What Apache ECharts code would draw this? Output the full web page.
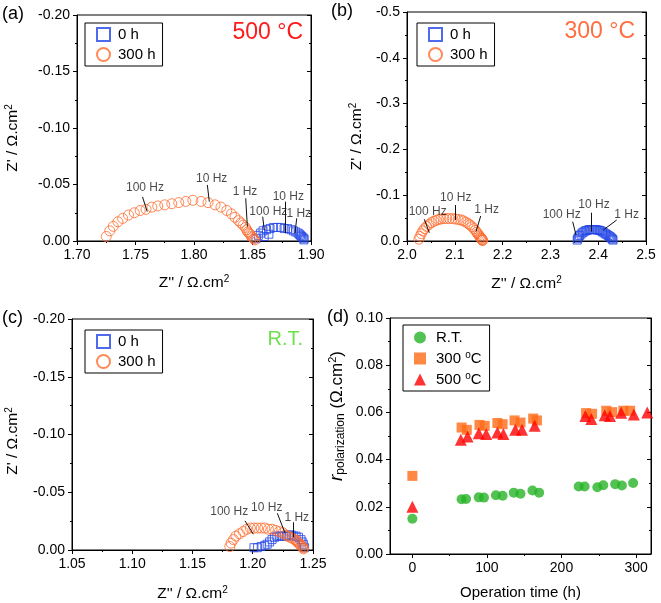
<!DOCTYPE html>
<html><head><meta charset="utf-8">
<script src="https://cdn.jsdelivr.net/npm/echarts@6/dist/echarts.min.js"></script>
<style>html,body{margin:0;padding:0;background:#fff}#c{width:661px;height:603px}</style>
</head><body><div id="c"></div>
<script>
// ---------- Panel (a) 500 °C ----------
const A_0H_X = [1.853,1.855,1.857,1.859,1.860,1.862,1.864,1.865,1.868,1.871,1.874,1.877,1.880,1.883,1.885,1.887,1.889,1.890,1.891,1.892,1.893,1.894,1.894];
const A_0H_Y = [-0.002,-0.005,-0.007,-0.009,-0.004,-0.010,-0.006,-0.011,-0.012,-0.012,-0.012,-0.011,-0.011,-0.010,-0.009,-0.008,-0.007,-0.006,-0.005,-0.004,-0.003,-0.002,-0.001];
const A_300H_X = [1.725,1.728,1.731,1.735,1.739,1.744,1.749,1.754,1.759,1.764,1.769,1.775,1.781,1.787,1.793,1.799,1.806,1.812,1.818,1.823,1.828,1.832,1.835,1.838,1.840,1.842,1.844,1.845,1.846,1.847,1.848,1.849,1.850,1.851,1.852];
const A_300H_Y = [-0.004,-0.009,-0.013,-0.017,-0.020,-0.023,-0.025,-0.027,-0.028,-0.030,-0.031,-0.032,-0.033,-0.034,-0.035,-0.036,-0.035,-0.034,-0.032,-0.030,-0.027,-0.024,-0.021,-0.018,-0.016,-0.014,-0.012,-0.010,-0.008,-0.007,-0.006,-0.004,-0.003,-0.002,-0.001];
const A_ANN_TEXT = ['100 Hz','10 Hz','1 Hz','100 Hz','10 Hz','1 Hz'];
const A_ANN_AT = [[1.7581,-0.0475],[1.8151,-0.0549],[1.8436,-0.0434],[1.8635,-0.0259],[1.8806,-0.0392],[1.8895,-0.0245]];
const A_ANN_LINE = [[[1.756,-0.039],[1.760,-0.026]],[[1.8114,-0.0496],[1.8131,-0.0348]],[[1.8442,-0.0378],[1.8456,-0.0127]],[[1.8587,-0.0215],[1.8601,-0.0097]],[[1.8778,-0.0348],[1.8778,-0.0068]],[[1.8878,-0.0201],[1.8863,-0.0068]]];

// ---------- Panel (b) 300 °C ----------
const B_0H_X = [2.356,2.357,2.359,2.361,2.364,2.367,2.370,2.373,2.376,2.379,2.382,2.385,2.388,2.391,2.394,2.397,2.400,2.403,2.406,2.409,2.412,2.415,2.418,2.421,2.424,2.426,2.428,2.430,2.431];
const B_0H_Y = [-0.002,-0.005,-0.009,-0.012,-0.015,-0.018,-0.020,-0.022,-0.023,-0.024,-0.025,-0.025,-0.025,-0.025,-0.025,-0.024,-0.024,-0.023,-0.022,-0.020,-0.018,-0.016,-0.014,-0.012,-0.010,-0.008,-0.006,-0.004,-0.002];
const B_300H_X = [2.025,2.027,2.030,2.033,2.037,2.041,2.046,2.051,2.056,2.061,2.066,2.071,2.077,2.083,2.089,2.095,2.101,2.107,2.113,2.118,2.123,2.128,2.132,2.136,2.140,2.143,2.146,2.148,2.150,2.152,2.154,2.155,2.156,2.157,2.158,2.158];
const B_300H_Y = [-0.004,-0.010,-0.016,-0.022,-0.027,-0.032,-0.036,-0.040,-0.043,-0.045,-0.047,-0.048,-0.049,-0.049,-0.049,-0.049,-0.048,-0.047,-0.046,-0.044,-0.041,-0.038,-0.035,-0.031,-0.027,-0.023,-0.019,-0.016,-0.013,-0.010,-0.008,-0.006,-0.004,-0.003,-0.002,-0.001];
const B_ANN_TEXT = ['100 Hz','10 Hz','1 Hz','100 Hz','10 Hz','1 Hz'];
const B_ANN_AT = [[2.0433,-0.064],[2.1019,-0.0954],[2.1667,-0.0677],[2.3236,-0.0568],[2.3912,-0.0786],[2.4596,-0.0568]];
const B_ANN_LINE = [[[2.0362,-0.0474],[2.0467,-0.0181]],[[2.1019,-0.0786],[2.1019,-0.0459]],[[2.1542,-0.0546],[2.1444,-0.0203]],[[2.3466,-0.0421],[2.3536,-0.0131]],[[2.3864,-0.0618],[2.3864,-0.0203]],[[2.4387,-0.0459],[2.4107,-0.024]]];

// ---------- Panel (c) R.T. ----------
const C_0H_X = [1.201,1.204,1.207,1.210,1.212,1.214,1.216,1.218,1.220,1.222,1.224,1.226,1.228,1.230,1.232,1.234,1.236,1.238,1.240,1.241,1.242,1.243];
const C_0H_Y = [-0.002,-0.002,-0.003,-0.004,-0.005,-0.007,-0.009,-0.011,-0.012,-0.012,-0.012,-0.012,-0.012,-0.013,-0.013,-0.012,-0.012,-0.011,-0.009,-0.007,-0.005,-0.002];
const C_300H_X = [1.181,1.182,1.184,1.186,1.189,1.192,1.195,1.198,1.201,1.204,1.207,1.210,1.213,1.216,1.219,1.222,1.225,1.227,1.229,1.231,1.233,1.235,1.236,1.237,1.238,1.239,1.240,1.241,1.242,1.242];
const C_300H_Y = [-0.003,-0.006,-0.009,-0.012,-0.014,-0.016,-0.018,-0.019,-0.019,-0.019,-0.019,-0.019,-0.018,-0.018,-0.017,-0.016,-0.015,-0.013,-0.012,-0.011,-0.010,-0.009,-0.008,-0.007,-0.006,-0.005,-0.004,-0.003,-0.002,-0.001];
const C_ANN_TEXT = ['100 Hz','10 Hz','1 Hz'];
const C_ANN_AT = [[1.1805,-0.0332],[1.2116,-0.0369],[1.2365,-0.0281]];
const C_ANN_LINE = [[[1.1936,-0.0252],[1.2005,-0.0137]],[[1.2204,-0.0318],[1.2268,-0.0146]],[[1.2336,-0.024],[1.2336,-0.0109]]];

// ---------- Panel (d) r_polarization vs time ----------
const D_RT_X = [0,66,72,89,96,112,121,136,145,161,170,223,231,248,256,272,281,296];
const D_RT_Y = [0.0149,0.0232,0.0233,0.0240,0.0239,0.0249,0.0247,0.0260,0.0255,0.0269,0.0260,0.0286,0.0286,0.0283,0.0291,0.0296,0.0290,0.0301];
const D_300_X = [0,66,73,90,97,114,121,137,145,162,167,233,241,260,268,283,292];
const D_300_Y = [0.0331,0.0536,0.0526,0.0547,0.0543,0.0555,0.0550,0.0566,0.0557,0.0574,0.0566,0.0597,0.0594,0.0607,0.0601,0.0607,0.0607];
const D_500_X = [0,65,74,89,99,114,122,138,147,164,232,240,258,265,280,297,315];
const D_500_Y = [0.0200,0.0484,0.0498,0.0512,0.0508,0.0515,0.0508,0.0526,0.0526,0.0543,0.0585,0.0572,0.0588,0.0585,0.0598,0.0591,0.0600];
const D_X_TICKS = [0,100,200,300];
const D_X_MINOR = [50,150,250];

const LEG_NYQ = ['0 h','300 h'];
const LEG_D = ['R.T.','300 °C','500 °C'];

// ---------- styles ----------
const BLUE = '#2346e6', ORANGE = '#ff6a2c';
const FONT = '"Liberation Sans", Arial, sans-serif';
const zip = (xs, ys) => xs.map((x, i) => [x, ys[i]]);
const supRich = {sup:{fontSize:10, verticalAlign:'top', padding:[0,0,8,0]}};

function nyqSeries(gi, xs0, ys0, xs3, ys3, annText, annAt, annLine){
  return [
    {type:'scatter', name:'0 h', xAxisIndex:gi, yAxisIndex:gi, data:zip(xs0, ys0), symbol:'rect', symbolSize:8,
     itemStyle:{color:'rgba(255,255,255,0)', borderColor:BLUE, borderWidth:1}, z:3},
    {type:'scatter', name:'300 h', xAxisIndex:gi, yAxisIndex:gi, data:zip(xs3, ys3), symbol:'circle', symbolSize:10,
     itemStyle:{color:'rgba(255,255,255,0)', borderColor:ORANGE, borderWidth:1}, z:3},
    {type:'scatter', name:'ann'+gi, xAxisIndex:gi, yAxisIndex:gi, symbolSize:1, itemStyle:{color:'rgba(0,0,0,0)'},
     data: annAt.map((p,i)=>({value:p, name:annText[i]})),
     label:{show:true, position:'inside', formatter:'{b}', color:'#1a1a1a', fontSize:12, fontFamily:FONT}, z:5,
     markLine:{silent:true, symbol:['none','none'], label:{show:false}, animation:false,
       lineStyle:{color:'#111', width:1, type:'solid'},
       data: annLine.map(l=>[{coord:l[0]},{coord:l[1]}])}}
  ];
}

function xAx(gi, min, max, interval, dec, nameGap){
  return {gridIndex:gi, type:'value', min, max, interval, position:'bottom',
    axisLine:{show:true, onZero:false, lineStyle:{color:'#000', width:1}},
    axisTick:{show:true, inside:false, length:4, lineStyle:{color:'#000'}},
    minorTick:{show:true, splitNumber:2, length:2, lineStyle:{color:'#000'}},
    splitLine:{show:false},
    axisLabel:{formatter:v=>v.toFixed(dec), fontSize:14, color:'#000', margin:7, fontFamily:FONT},
    name:"Z'' / Ω.cm{sup|2}", nameLocation:'middle', nameGap,
    nameTextStyle:{fontSize:15.5, color:'#000', fontFamily:FONT, rich:supRich}};
}
function yAxL(gi, min, interval, dec, nameGap, pad){
  return {gridIndex:gi, type:'value', min, max:0, interval, inverse:true, position:'left',
    axisLine:{show:true, onZero:false, lineStyle:{color:'#000', width:1}},
    axisTick:{show:true, inside:false, length:4, lineStyle:{color:'#000'}},
    minorTick:{show:true, splitNumber:2, length:2, lineStyle:{color:'#000'}},
    splitLine:{show:false},
    axisLabel:{formatter:v=>v.toFixed(dec), fontSize:14, color:'#000', margin:7, fontFamily:FONT},
    name:"Z' / Ω.cm{sup|2}", nameLocation:'middle', nameGap, nameRotate:90,
    nameTextStyle:{fontSize:15.5, color:'#000', fontFamily:FONT, rich:supRich, padding:pad}};
}
function yAxR(gi, min, max, interval, inverse){
  return {gridIndex:gi, type:'value', min, max, interval, inverse, position:'right',
    axisLine:{show:true, onZero:false, lineStyle:{color:'#000', width:1}},
    axisTick:{show:true, inside:true, length:4, lineStyle:{color:'#000'}},
    minorTick:{show:true, splitNumber:2, length:2, lineStyle:{color:'#000'}},
    splitLine:{show:false}, axisLabel:{show:false}};
}
function legendNyq(left, top){
  return {data:LEG_NYQ, left, top, orient:'vertical', selectedMode:false, backgroundColor:'#fff',
    borderColor:'#000', borderWidth:1, borderRadius:0, padding:[4,7,4,11], itemGap:5, itemWidth:13, itemHeight:13,
    textStyle:{fontSize:15, color:'#000', fontFamily:FONT, padding:[0,0,0,3]}};
}

const chart = echarts.init(document.getElementById('c'), null, {renderer:'canvas'});
chart.setOption({
  animation:false,
  backgroundColor:'#fff',
  textStyle:{fontFamily:FONT},
  title:[
    {text:'(a)', left:2, top:5, padding:0, textStyle:{fontSize:18, fontWeight:'normal', color:'#000', fontFamily:FONT}},
    {text:'(b)', left:331, top:2, padding:0, textStyle:{fontSize:18, fontWeight:'normal', color:'#000', fontFamily:FONT}},
    {text:'(c)', left:2, top:309, padding:0, textStyle:{fontSize:18, fontWeight:'normal', color:'#000', fontFamily:FONT}},
    {text:'(d)', left:327, top:308, padding:0, textStyle:{fontSize:18, fontWeight:'normal', color:'#000', fontFamily:FONT}},
    {text:'500 °C', right:358, top:21, padding:0, textStyle:{fontSize:23, fontWeight:'normal', color:'#ff1a1a', fontFamily:FONT}},
    {text:'300 °C', right:26, top:20, padding:0, textStyle:{fontSize:23, fontWeight:'normal', color:'#ff6e40', fontFamily:FONT}},
    {text:'R.T.', right:358, top:329, padding:0, textStyle:{fontSize:20, fontWeight:'normal', color:'#6fe04c', fontFamily:FONT}}
  ],
  legend:[
    legendNyq(85, 23),
    legendNyq(417, 23),
    legendNyq(85, 330),
    {data:LEG_D, left:403, top:325, orient:'vertical', selectedMode:false, backgroundColor:'#fff',
     borderColor:'#000', borderWidth:1, borderRadius:0, padding:[5,8,4,11], itemGap:5, itemWidth:12, itemHeight:12,
     formatter:n=>n.replace(' °C',' {sup|o}C'),
     textStyle:{fontSize:15, color:'#000', fontFamily:FONT, padding:[0,0,0,5], rich:{sup:{fontSize:10, verticalAlign:'top', padding:[0,0,7,0]}}}}
  ],
  grid:[
    {left:77, top:15, width:234, height:226, show:true, borderColor:'#000', borderWidth:1, backgroundColor:'transparent'},
    {left:407, top:12, width:239, height:229, show:true, borderColor:'#000', borderWidth:1, backgroundColor:'transparent'},
    {left:72, top:319, width:241, height:233, show:true, borderColor:'#000', borderWidth:1, backgroundColor:'transparent'},
    {left:390, top:318, width:261, height:236, show:true, borderColor:'#000', borderWidth:1, backgroundColor:'transparent'}
  ],
  xAxis:[
    xAx(0, 1.70, 1.90, 0.05, 2, 33),
    xAx(1, 2.0, 2.5, 0.1, 1, 34),
    xAx(2, 1.05, 1.25, 0.05, 2, 35),
    {gridIndex:3, type:'value', min:-30, max:320, position:'bottom',
     axisLine:{show:true, onZero:false, lineStyle:{color:'#000'}},
     axisTick:{show:true, length:4, customValues:D_X_TICKS, lineStyle:{color:'#000'}},
     splitLine:{show:false},
     axisLabel:{customValues:D_X_TICKS, fontSize:14, color:'#000', margin:7, fontFamily:FONT},
     name:'Operation time (h)', nameLocation:'middle', nameGap:31,
     nameTextStyle:{fontSize:15, color:'#000', fontFamily:FONT}},
    {gridIndex:3, type:'value', min:-30, max:320, position:'bottom',
     axisLine:{show:false}, splitLine:{show:false}, axisLabel:{show:false},
     axisTick:{show:true, length:2, customValues:D_X_MINOR, lineStyle:{color:'#000'}}}
  ],
  yAxis:[
    yAxL(0, -0.20, 0.05, 2, 55, [0,20,0,0]),
    yAxL(1, -0.5, 0.1, 1, 41, [0,20,0,0]),
    yAxL(2, -0.20, 0.05, 2, 50, [0,13,0,0]),
    {gridIndex:3, type:'value', min:0, max:0.10, interval:0.02, position:'left',
     axisLine:{show:true, onZero:false, lineStyle:{color:'#000'}},
     axisTick:{show:true, length:4, lineStyle:{color:'#000'}},
     minorTick:{show:true, splitNumber:2, length:2, lineStyle:{color:'#000'}},
     splitLine:{show:false},
     axisLabel:{formatter:v=>v.toFixed(2), fontSize:14, color:'#000', margin:7, fontFamily:FONT},
     name:'{i|r}{sub|polarization} (Ω.cm{sup|2})', nameLocation:'middle', nameGap:43, nameRotate:90,
     nameTextStyle:{fontSize:17, color:'#000', fontFamily:FONT, padding:[0,0,0,40],
       rich:{i:{fontSize:19, fontStyle:'italic'}, sub:{fontSize:12, verticalAlign:'bottom', padding:[7,0,0,0]}, sup:{fontSize:11, verticalAlign:'top', padding:[0,0,9,0]}}}},
    yAxR(0, -0.20, 0, 0.05, true),
    yAxR(1, -0.5, 0, 0.1, true),
    yAxR(2, -0.20, 0, 0.05, true),
    yAxR(3, 0, 0.10, 0.02, false)
  ],
  series:[
    ...nyqSeries(0, A_0H_X, A_0H_Y, A_300H_X, A_300H_Y, A_ANN_TEXT, A_ANN_AT, A_ANN_LINE),
    ...nyqSeries(1, B_0H_X, B_0H_Y, B_300H_X, B_300H_Y, B_ANN_TEXT, B_ANN_AT, B_ANN_LINE),
    ...nyqSeries(2, C_0H_X, C_0H_Y, C_300H_X, C_300H_Y, C_ANN_TEXT, C_ANN_AT, C_ANN_LINE),
    {type:'scatter', name:'R.T.', xAxisIndex:3, yAxisIndex:3, data:zip(D_RT_X, D_RT_Y), symbol:'circle', symbolSize:10, itemStyle:{color:'#27b327'}},
    {type:'scatter', name:'300 °C', xAxisIndex:3, yAxisIndex:3, data:zip(D_300_X, D_300_Y), symbol:'rect', symbolSize:10, itemStyle:{color:'#ff6a16'}},
    {type:'scatter', name:'500 °C', xAxisIndex:3, yAxisIndex:3, data:zip(D_500_X, D_500_Y), symbol:'triangle', symbolSize:12, itemStyle:{color:'#ff0000'}}
  ]
});
</script></body></html>
